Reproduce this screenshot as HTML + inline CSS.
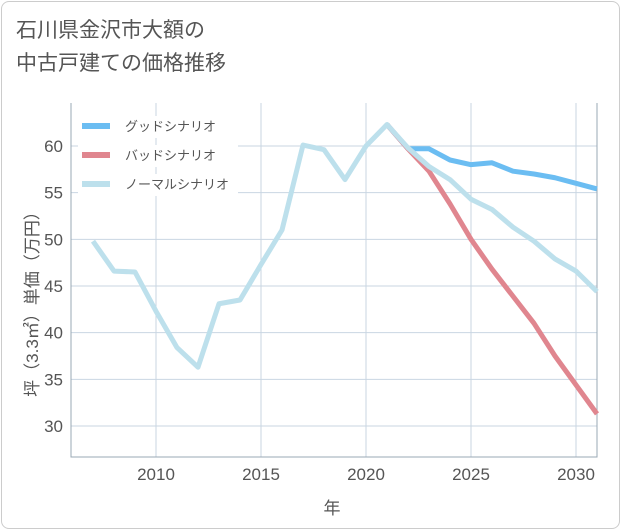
<!DOCTYPE html>
<html><head><meta charset="utf-8"><style>
body{margin:0;background:#fff;font-family:"Liberation Sans","Noto Sans CJK JP",sans-serif;}
#card{position:absolute;left:1px;top:1px;width:617px;height:526px;border:1px solid #ccc;border-radius:8px;background:#fff;}
#title{position:absolute;left:16px;top:14px;font-size:21px;line-height:33px;color:#555;}
</style></head><body>
<div id="card"></div>
<div id="title">石川県金沢市大額の<br>中古戸建ての価格推移</div>
<svg id="chart" width="621" height="530" style="position:absolute;left:0;top:0"></svg>
<script>
const years=[2007,2008,2009,2010,2011,2012,2013,2014,2015,2016,2017,2018,2019,2020,2021,2022,2023,2024,2025,2026,2027,2028,2029,2030,2031];
const normal=[49.8,46.6,46.5,42.3,38.4,36.3,43.1,43.5,47.3,51.0,60.1,59.6,56.4,60.0,62.3,59.8,57.8,56.4,54.3,53.2,51.3,49.8,47.9,46.6,44.4];
const goodYears=[2021,2022,2023,2024,2025,2026,2027,2028,2029,2030,2031];
const good=[62.3,59.7,59.7,58.5,58.0,58.2,57.3,57.0,56.6,56.0,55.4];
const bad=[62.3,59.7,57.3,53.8,50.0,46.8,43.9,41.0,37.5,34.4,31.3];
const xTicks=[2010,2015,2020,2025,2030];
const yTicks=[30,35,40,45,50,55,60];
const L=71,R=597,T=103,B=457;
const X=y=>156+(y-2010)*21;
const Y=v=>146+(60-v)*(280/30);
const svg=document.getElementById('chart');
const NS='http://www.w3.org/2000/svg';
function mk(t,a){const e=document.createElementNS(NS,t);for(const k in a)e.setAttribute(k,a[k]);svg.appendChild(e);return e;}
let e;
for(const t of yTicks){
 e=mk('line',{x1:L,x2:R,y1:Y(t),y2:Y(t),stroke:'#c9d6e2','stroke-width':1});
 
 
 e=mk('text',{x:L-8,y:Y(t)+6,'text-anchor':'end','font-size':17,fill:'#555'});e.textContent=t;
 
 
}
for(const t of xTicks){
 e=mk('line',{x1:X(t),x2:X(t),y1:T,y2:B,stroke:'#c9d6e2','stroke-width':1});
 
 
 e=mk('text',{x:X(t),y:B+23,'text-anchor':'middle','font-size':17,fill:'#555'});e.textContent=t;
 
 
}
e=mk('path',{d:`M${L},${T}V${B}H${R}V${T}`,fill:'none',stroke:'#9aa8b4','stroke-width':1});


function line(xs,vs,c,name){
 const p=mk('polyline',{points:xs.map((x,i)=>X(x)+','+Y(vs[i])).join(' '),fill:'none',stroke:c,'stroke-width':5,'stroke-linejoin':'round'});
 
 
}
line(goodYears,good,'#6bbdf2','good-scenario-line');
line(goodYears,bad,'#e0868f','bad-scenario-line');
line(years,normal,'#bde0ec','normal-scenario-line');
const leg=[['グッドシナリオ','#6bbdf2'],['バッドシナリオ','#e0868f'],['ノーマルシナリオ','#bde0ec']];
leg.forEach((l,i)=>{
 const y=126+i*29;
 e=mk('rect',{x:78,y:y-10,width:160,height:22,fill:'#fff'});
 
 
 e=mk('line',{x1:82,x2:110,y1:y,y2:y,stroke:l[1],'stroke-width':6});
 
 
 e=mk('text',{x:125,y:y+5,'font-size':13,fill:'#555'});e.textContent=l[0];
 
 
});
e=mk('text',{x:332,y:514,'text-anchor':'middle','font-size':17,fill:'#555'});e.textContent='年';


e=mk('text',{x:0,y:0,'text-anchor':'middle','font-size':17,fill:'#555',transform:'translate(38,300) rotate(-90)'});e.textContent='坪（3.3㎡）単価（万円）';


</script>
</body></html>
